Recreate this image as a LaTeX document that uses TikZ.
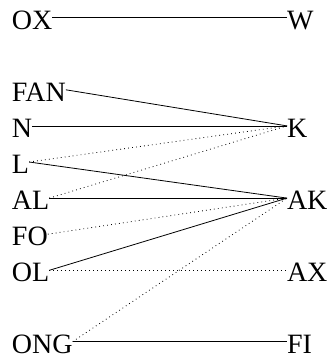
\documentclass[tikz,border=0pt]{standalone}
\usepackage{fontspec}
\setmainfont{Liberation Serif}
\begin{document}
\begin{tikzpicture}[x=1pt,y=-1pt,
  lbl/.style={inner sep=0pt,outer sep=0pt,text height=22.8pt,text depth=0pt,font=\fontsize{28}{32}\selectfont},
  lft/.style={lbl,anchor=base west},
  rgt/.style={lbl,anchor=base west},
  solid link/.style={line width=0.8pt},
  dot link/.style={line width=0.8pt,dash pattern=on 0.8pt off 3.2pt}]
\useasboundingbox (0,0) rectangle (328,357);
\node[lft] (ox)  at (12,29) {OX};
\node[lft] (fan) at (12,101.2) {FAN};
\node[lft] (n)   at (12,137.3) {N};
\node[lft] (l)   at (12,173.4) {L};
\node[lft] (al)  at (12,209.5) {AL};
\node[lft] (fo)  at (12,245.6) {FO};
\node[lft] (ol)  at (12,281.7) {OL};
\node[lft] (ong) at (12,353) {ONG};
\node[rgt] (w)   at (287,29) {W};
\node[rgt] (k)   at (287,137.3) {K};
\node[rgt] (ak)  at (287,209.5) {AK};
\node[rgt] (ax)  at (287,281.7) {AX};
\node[rgt] (fi)  at (287,353) {FI};
\draw[solid link] (ox.east) -- (w.west);
\draw[solid link] (fan.east) -- (k.west);
\draw[solid link] (n.east) -- (k.west);
\draw[solid link] (l.east) -- (ak.west);
\draw[solid link] (al.east) -- (ak.west);
\draw[solid link] (ol.east) -- (ak.west);
\draw[solid link] (ong.east) -- (fi.west);
\draw[dot link] (l.east) -- (k.west);
\draw[dot link] (al.east) -- (k.west);
\draw[dot link] (fo.east) -- (ak.west);
\draw[dot link] (ol.east) -- (ax.west);
\draw[dot link] (ong.east) -- (ak.west);
\end{tikzpicture}
\end{document}
